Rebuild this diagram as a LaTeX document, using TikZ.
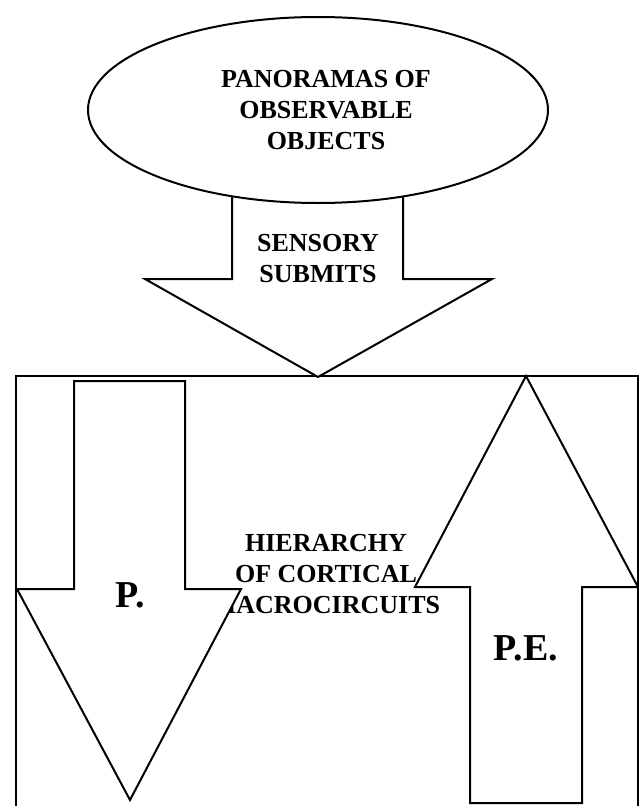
\documentclass[tikz,border=0pt]{standalone}
\usepackage{fontspec}
\setmainfont{Liberation Serif}
\begin{document}
\begin{tikzpicture}[x=1pt,y=-1pt,
  shapeline/.style={draw=black, fill=white, line width=2pt, line join=miter},
  lbl/.style={font=\bfseries\fontsize{26}{31}\selectfont, align=center, inner sep=0pt},
  biglbl/.style={font=\bfseries\fontsize{38}{40}\selectfont, inner sep=0pt}]
\useasboundingbox (0,0) rectangle (639,806);
\clip (0,0) rectangle (639,806);
\fill[white] (0,0) rectangle (639,806);
% outer box
\draw[shapeline, fill=none] (16,376) rectangle (638,830);
\node[lbl] (hier) at (326,574.5) {HIERARCHY\\OF CORTICAL\\MACROCIRCUITS};
% down arrow P.
\draw[shapeline] (74,381) -- (185,381) -- (185,589) -- (241,589) -- (130,800) -- (17,589) -- (74,589) -- cycle;
\node[biglbl, anchor=base] (p) at (130,607) {P.};
% up arrow P.E.
\draw[shapeline] (526,376) -- (638,587) -- (582,587) -- (582,803) -- (470,803) -- (470,587) -- (415,587) -- cycle;
\node[biglbl, anchor=base] (pe) at (526,660) {P.E.};
% sensory arrow
\draw[shapeline] (232,150) -- (232,279) -- (145,279) -- (318,377) -- (492,279) -- (403,279) -- (403,150) -- cycle;
\node[lbl] (sens) at (318,258.5) {SENSORY\\SUBMITS};
% ellipse
\draw[shapeline] (318,110) ellipse [x radius=230, y radius=93];
\node[lbl] (pano) at (326,110) {PANORAMAS OF\\OBSERVABLE\\OBJECTS};
\end{tikzpicture}
\end{document}
